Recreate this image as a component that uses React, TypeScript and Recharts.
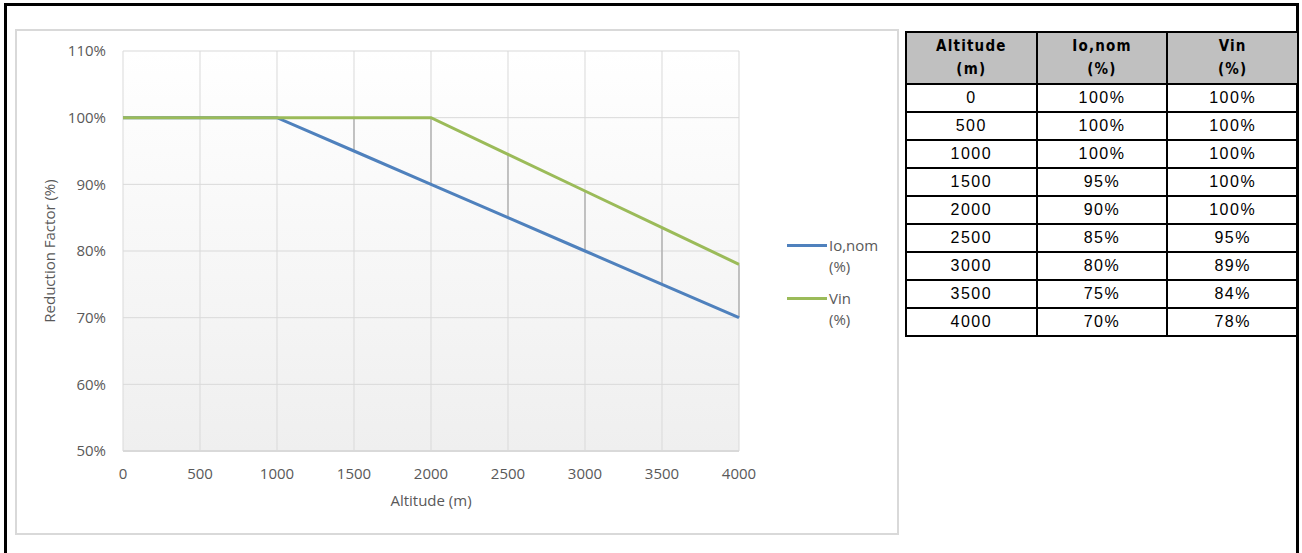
import React from 'react';
import {
  LineChart, Line, XAxis, YAxis, CartesianGrid, Legend, ErrorBar, Label,
} from 'recharts';

// altitude steps (m) and the two derating curves (%)
const altitudes = [0, 500, 1000, 1500, 2000, 2500, 3000, 3500, 4000];
const ioNom = [100, 100, 100, 95, 90, 85, 80, 75, 70];
const vin = [100, 100, 100, 100, 100, 94.5, 89, 83.5, 78];

const xTicks = [0, 500, 1000, 1500, 2000, 2500, 3000, 3500, 4000];
const yTicks = [50, 60, 70, 80, 90, 100, 110];

const seriesNames = ['Io,nom (%)', 'Vin (%)'];
const seriesColors = ['#4f81bd', '#9bbb59'];
const tableHeaders = [['Altitude', '(m)'], ['Io,nom', '(%)'], ['Vin', '(%)']];

const data = altitudes.map((alt, i) => ({
  alt,
  io: ioNom[i],
  vin: vin[i],
  // high-low line from Io,nom up to Vin
  spread: [0, vin[i] - ioNom[i]],
}));

const FONT = "'Open Sans', sans-serif";
const TXT = '#595959';

function LegendBox() {
  return (
    <div style={{ fontFamily: FONT, fontSize: 15, color: TXT, lineHeight: '21px' }}>
      {seriesNames.map((name, i) => (
        <div key={name} style={{ display: 'flex', alignItems: 'flex-start', marginBottom: 11 }}>
          <svg width={40} height={21} style={{ flex: 'none' }}>
            <line x1={0} x2={40} y1={10.5} y2={10.5} stroke={seriesColors[i]} strokeWidth={3} />
          </svg>
          <div style={{ marginLeft: 2 }}>
            {name.split(' ').map((part) => <div key={part}>{part}</div>)}
          </div>
        </div>
      ))}
    </div>
  );
}

export default function App() {
  const cell: React.CSSProperties = {
    border: '2px solid #000',
    textAlign: 'center',
    padding: 0,
    height: 26,
    fontFamily: "'Liberation Sans', Arial, sans-serif",
    fontSize: 16,
    letterSpacing: 1.5,
    color: '#000',
  };
  const head: React.CSSProperties = {
    ...cell,
    background: '#c0c0c0',
    height: 50,
    fontFamily: "'DejaVu Sans Condensed', 'Liberation Sans', Arial, sans-serif",
    fontWeight: 'bold',
    fontSize: 15,
    lineHeight: '23px',
    letterSpacing: 1.2,
  };

  return (
    <div style={{ position: 'absolute', left: 0, top: 0, width: 1302, height: 553, background: '#fff', overflow: 'hidden' }}>
      {/* outer frame */}
      <div style={{ position: 'absolute', left: 4, top: 3, width: 1289, height: 600, border: '3px solid #000' }} />

      {/* chart area */}
      <div style={{ position: 'absolute', left: 15, top: 29, width: 884, height: 506, border: '2px solid #d9d9d9', boxSizing: 'border-box' }} />
      <div style={{ position: 'absolute', left: 15, top: 29 }}>
        <LineChart width={884} height={506} data={data} margin={{ top: 22, right: 160, bottom: 0, left: 0 }}>
          <defs>
            <linearGradient id="plotBg" x1="0" y1="0" x2="0" y2="1">
              <stop offset="0%" stopColor="#ffffff" />
              <stop offset="100%" stopColor="#efefef" />
            </linearGradient>
          </defs>
          <CartesianGrid stroke="#d9d9d9" fill="url(#plotBg)" fillOpacity={1} />
          <XAxis
            dataKey="alt"
            type="number"
            domain={[0, 4000]}
            ticks={xTicks}
            height={84}
            tickSize={0}
            tickMargin={17}
            axisLine={{ stroke: '#d9d9d9', strokeWidth: 2 }}
            tick={{ fill: TXT, fontSize: 15, fontFamily: FONT }}
          >
            <Label value="Altitude (m)" position="insideTop" offset={44} fill={TXT} fontSize={15} fontFamily={FONT} />
          </XAxis>
          <YAxis
            type="number"
            domain={[50, 110]}
            ticks={yTicks}
            width={108}
            tickSize={0}
            tickMargin={17}
            axisLine={false}
            tickFormatter={(v: number) => `${v}%`}
            tick={{ fill: TXT, fontSize: 15, fontFamily: FONT }}
          >
            <Label value="Reduction Factor (%)" angle={-90} position="insideLeft" offset={35} style={{ textAnchor: 'middle' }} fill={TXT} fontSize={15} fontFamily={FONT} />
          </YAxis>
          <Line
            dataKey="io"
            name={seriesNames[0]}
            stroke={seriesColors[0]}
            strokeWidth={3}
            dot={false}
            isAnimationActive={false}
          >
            <ErrorBar dataKey="spread" direction="y" width={0} stroke="#a6a6a6" strokeWidth={1.2} isAnimationActive={false} />
          </Line>
          <Line
            dataKey="vin"
            name={seriesNames[1]}
            stroke={seriesColors[1]}
            strokeWidth={3}
            dot={false}
            isAnimationActive={false}
          />
          <Legend
            layout="horizontal"
            align="center"
            verticalAlign="middle"
            content={() => <LegendBox />}
            wrapperStyle={{ position: 'absolute', left: 772, top: 206, width: 110 }}
          />
        </LineChart>
      </div>

      {/* data table */}
      <table style={{ position: 'absolute', left: 905, top: 31, width: 394, borderCollapse: 'collapse', tableLayout: 'fixed' }}>
        <thead>
          <tr>
            {tableHeaders.map((h) => (
              <th key={h[0]} style={head}>{h[0]}<br />{h[1]}</th>
            ))}
          </tr>
        </thead>
        <tbody>
          {altitudes.map((alt, i) => (
            <tr key={alt}>
              <td style={cell}>{alt}</td>
              <td style={cell}>{Math.round(ioNom[i])}%</td>
              <td style={cell}>{Math.round(vin[i])}%</td>
            </tr>
          ))}
        </tbody>
      </table>
    </div>
  );
}
